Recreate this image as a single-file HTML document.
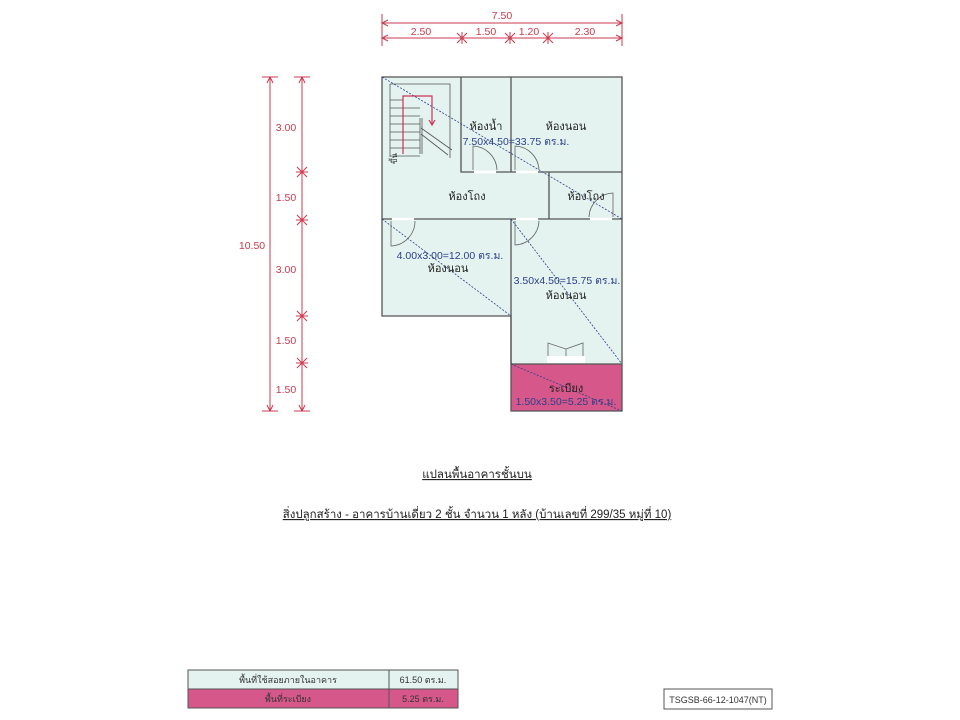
<!DOCTYPE html>
<html><head><meta charset="utf-8"><style>
body{margin:0;background:#fff;width:960px;height:720px;overflow:hidden}
svg{display:block}
text{font-family:"Liberation Sans","Noto Sans CJK SC",sans-serif}
</style></head><body>
<svg width="960" height="720" viewBox="0 0 960 720">
<defs>
<g id="st"><path d="M-5,-5L5,5M-5,5L5,-5M0,-6V6" stroke="#c83a4c" stroke-width="1"/></g>
<g id="sh"><path d="M-5,-5L5,5M-5,5L5,-5M-6,0H6" stroke="#c83a4c" stroke-width="1"/></g>
</defs>
<path d="M382,77H622V364H511V316H382Z" fill="#e4f3ef"/>
<rect x="511" y="364" width="111" height="47" fill="#d6588a"/>
<g fill="none" stroke="#555" stroke-width="1.3">
<path d="M382,77H622V411H511V316H382Z"/>
<path d="M461,77V172H511M511,77V172H622"/>
<path d="M549,172V219M382,219H622M511,219V364M511,364H622"/>
</g>
<g stroke="#fff" stroke-width="2.5">
<path d="M474,172H496M516,172H538M590,219H612M392,219H414M516,219H538"/>
</g>
<g stroke="#2c3f8a" stroke-width="0.8" stroke-dasharray="2,1.5">
<line x1="382" y1="77" x2="622" y2="219"/>
<line x1="382" y1="219" x2="511" y2="316"/>
<line x1="511" y1="219" x2="622" y2="364"/>
<line x1="511" y1="364" x2="622" y2="411"/>
</g>
<g stroke="#555" stroke-width="0.8" fill="none">
<path d="M390,84H450V158M390,84V157"/>
<path d="M390,100H403M390,108H420M390,116H420M390,124H420M390,132H420M390,140H420M390,148H420M390,156H420"/>
<path d="M420,118V154M422,118V154M421,128L452,150M421,134L448,155"/>
<path d="M403,154V96H432V124" stroke="#d0305a" stroke-width="1.2"/>
<path d="M429,120L432,125L435,120" stroke="#d0305a" stroke-width="1.2"/>
</g>
<text x="397" y="164" font-size="8" fill="#333" transform="rotate(-90 397 164)">ขึ้น</text>
<g stroke="#666" stroke-width="0.8" fill="none">
<path d="M473,170V146A25,25 0 0 1 497,170"/>
<path d="M515,170V146A25,25 0 0 1 539,170"/>
<path d="M613,217V193A25,25 0 0 0 589,217"/>
<path d="M391,221V246A25,25 0 0 0 415,221"/>
<path d="M515,221V245A25,25 0 0 0 539,221"/>
<path d="M548,362V343L566,349V362M583,362V343L566,349"/>
<rect x="547" y="356" width="38" height="7" fill="#fff" stroke="none"/>
</g>
<g font-size="11" fill="#222" text-anchor="middle">
<text x="486" y="130">ห้องน้ำ</text>
<text x="566" y="130">ห้องนอน</text>
<text x="467" y="200">ห้องโถง</text>
<text x="586" y="200">ห้องโถง</text>
<text x="448" y="272">ห้องนอน</text>
<text x="566" y="299">ห้องนอน</text>
<text x="566" y="392">ระเบียง</text>
</g>
<g font-size="10.5" fill="#2c3f8a" text-anchor="middle">
<text x="516" y="145">7.50x4.50=33.75 ตร.ม.</text>
<text x="450" y="259">4.00x3.00=12.00 ตร.ม.</text>
<text x="567" y="284">3.50x4.50=15.75 ตร.ม.</text>
<text x="566" y="405">1.50x3.50=5.25 ตร.ม.</text>
</g>
<g stroke="#c83a4c" stroke-width="1" fill="none">
<path d="M382,14V46M622,14V46M382,23H622M382,38H622"/>
<path d="M388,20L382,23L388,26M616,20L622,23L616,26M388,35L382,38L388,41M616,35L622,38L616,41"/>
<path d="M270,77V411M302,77V411M262,77H278M262,411H278M294,77H310M294,411H310"/>
<path d="M267,83L270,77L273,83M267,405L270,411L273,405M299,83L302,77L305,83M299,405L302,411L305,405"/>
</g>
<use href="#st" x="462" y="38"/><use href="#st" x="510" y="38"/><use href="#st" x="548" y="38"/>
<use href="#sh" x="302" y="172"/><use href="#sh" x="302" y="220"/><use href="#sh" x="302" y="316"/><use href="#sh" x="302" y="363"/>
<g font-size="10.5" fill="#c83a4c" text-anchor="middle">
<text x="502" y="19">7.50</text>
<text x="421" y="35">2.50</text>
<text x="486" y="35">1.50</text>
<text x="529" y="35">1.20</text>
<text x="585" y="35">2.30</text>
<text x="252" y="249">10.50</text>
<text x="286" y="131">3.00</text>
<text x="286" y="201">1.50</text>
<text x="286" y="273">3.00</text>
<text x="286" y="344">1.50</text>
<text x="286" y="393">1.50</text>
</g>
<g font-size="11.5" fill="#222" text-anchor="middle" text-decoration="underline">
<text x="477" y="478">แปลนพื้นอาคารชั้นบน</text>
<text x="477" y="518">สิ่งปลูกสร้าง - อาคารบ้านเดี่ยว 2 ชั้น จำนวน 1 หลัง (บ้านเลขที่ 299/35 หมู่ที่ 10)</text>
</g>
<rect x="188" y="670" width="270" height="19" fill="#e4f3ef"/>
<rect x="188" y="689" width="270" height="19" fill="#d6588a"/>
<g stroke="#555" fill="none" stroke-width="1"><rect x="188" y="670" width="270" height="38"/><path d="M188,689H458M389,670V708"/></g>
<g font-size="9" fill="#333" text-anchor="middle">
<text x="288" y="683">พื้นที่ใช้สอยภายในอาคาร</text>
<text x="288" y="702">พื้นที่ระเบียง</text>
<text x="423" y="683">61.50 ตร.ม.</text>
<text x="423" y="702">5.25 ตร.ม.</text>
</g>
<rect x="664" y="689" width="108" height="20" fill="#fff" stroke="#555"/>
<text x="718" y="703" font-size="9" fill="#333" text-anchor="middle">TSGSB-66-12-1047(NT)</text>
</svg>
</body></html>
